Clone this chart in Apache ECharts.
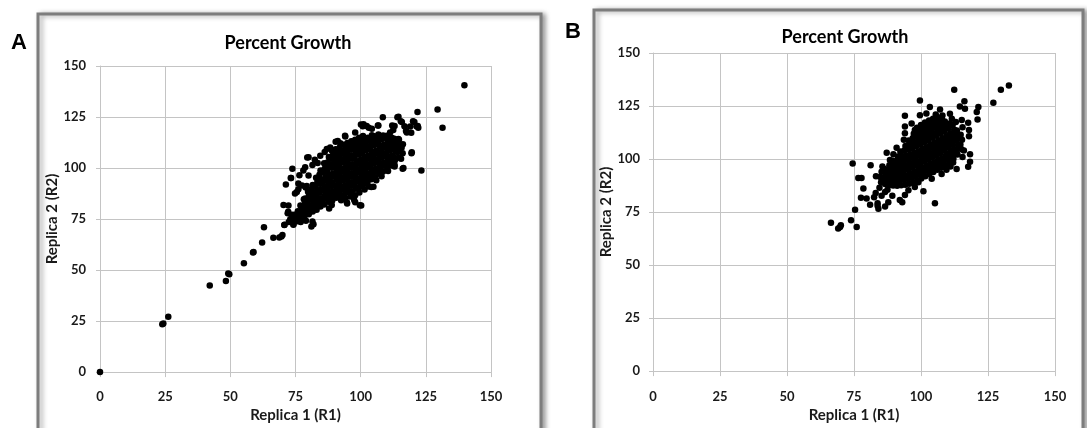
<!DOCTYPE html>
<html>
<head>
<meta charset="utf-8">
<script src="https://cdn.jsdelivr.net/npm/echarts@6/dist/echarts.min.js"></script>
<style>
  html, body { margin: 0; padding: 0; background: #fff; }
  #chart { width: 1087px; height: 428px; }
</style>
</head>
<body>
<div id="chart"></div>
<script>
// axis range shared by both panels
const axisMin = 0;
const axisMax = 150;
const axisStep = 25;

const panelTitle = "Percent Growth";
const xName = "Replica 1 (R1)";
const yName = "Replica 2 (R2)";
const panelLetters = ["A", "B"];

// panel A - isolated points
const sparseA = [
  [0,0],[23.9,23.4],[24.3,23.8],[26.2,27.1],[42.1,42.4],[48.3,44.7],[49.2,48.3],[49.6,48.0],[55.2,53.3],[58.7,58.6],[58.9,58.9],
  [62.2,63.5],[62.9,71.0],[66.5,65.8],[68.8,65.9],[69.6,66.4],[70.0,67.2],[70.7,72.1],[71.3,91.9],[73.3,95.1],[73.8,99.6],
  [70.4,81.9],[72.3,81.6],[72.0,77.9],[73.6,77.1],[72.4,73.6],[70.8,72.2],[74.2,72.5],[73.1,75.0],
  [81.1,71.4],[81.5,73.8],[81.9,72.5],[79.5,105.2],[82.4,104.1],[80.0,105.3],[87.0,109.3],[88.3,110.1],[90.4,112.9],[91.2,113.3],
  [94.1,115.4],[94.0,115.8],[97.9,117.4],[100.1,121.3],[100.8,120.5],[101.1,121.4],[102.3,120.6],[103.1,119.7],[104.3,119.3],
  [106.6,120.9],[106.8,120.8],[108.5,124.9],[112.1,120.8],[112.5,118.6],[113.0,120.6],[114.1,124.9],[114.5,125.1],[115.4,122.9],
  [115.8,122.5],[116.8,120.5],[117.4,118.1],[119.0,120.3],[119.4,117.3],[120.1,122.9],[120.6,122.5],[121.4,120.5],[121.9,120.6],
  [122.1,119.7],[121.8,127.4],[129.5,128.7],[131.4,119.7],[139.8,140.6],
  [123.3,98.8],[119.6,107.7],[119.5,107.3],[116.4,100.0],[116.1,99.6],[111.9,101.2],[110.8,101.2],[113.0,100.7],[110.0,115.8],
  [111.3,117.4],[114.5,114.2],[113.2,111.0],[117.7,117.4],[110.6,109.3],[111.3,112.5],
  [73.2,95.1],[76.1,89.6],[79.3,91.2],[74.8,87.5],[78.7,100.4],[80.0,96.4],[76.1,92.4],[78.7,85.1],[77.5,91.5],[78.9,90.4],
  [80.2,86.7],[75.5,88.3],[87.0,86.7],[88.9,81.9],[87.9,80.2],[94.0,85.1],[97.9,86.7],[94.7,83.2],[97.9,83.2],[94.8,82.6],
  [97.5,84.3],[99.7,81.8],[100.2,81.6],[104.1,90.7],[104.9,90.8],[103.6,94.8],[72.2,78.6],[73.0,74.6],[74.2,72.2],[77.0,73.5],[79.0,74.2],
  [76.5,96.5],[78.0,98.8],[81.5,101.5],[83.5,102.5],[84.5,106.0],[86.2,107.8],
  [92.5,84.2],[96.0,86.0],[99.5,88.0],[101.5,89.5],[103.0,91.0],[106.0,94.0],[108.0,96.0],[110.5,98.5],[113.0,101.5],[115.5,104.5]
];

// panel A - dense core, estimated
const denseA = [
  [74.2,74.8],[74.6,77.1],[75.8,73.9],[75.3,76.4],[75.9,78.8],[77.2,75.3],[76.8,77.5],[77.4,79.9],[76.9,81.6],
  [78.4,76.1],[78.8,78.4],[78.3,80.6],[78.7,82.9],[78.2,84.7],
  [80.1,77.4],[79.7,79.8],[80.3,81.5],[79.9,84.1],[80.2,86.2],[79.8,88.4],
  [81.6,78.7],[81.3,80.9],[81.8,82.6],[81.4,85.2],[81.7,87.5],[81.2,89.6],[81.6,91.7],
  [83.1,79.6],[82.8,82.2],[83.3,84.3],[82.9,86.7],[83.2,88.4],[82.7,90.9],[83.4,93.1],[82.9,95.2],
  [84.6,81.2],[84.2,83.4],[84.8,85.2],[84.3,87.9],[84.7,89.6],[84.4,92.3],[84.9,94.1],[84.2,96.7],[84.6,98.8],
  [86.1,82.1],[85.7,84.8],[86.3,86.4],[85.8,89.1],[86.2,90.9],[85.9,93.6],[86.4,95.3],[85.8,97.9],[86.2,99.6],[86.0,102.3],
  [87.6,83.5],[87.2,85.2],[87.8,87.9],[87.3,89.6],[87.7,92.3],[87.4,94.0],[87.9,96.7],[87.2,98.4],[87.6,101.1],[87.4,102.8],[87.8,105.4],
  [89.1,84.1],[88.8,86.8],[89.3,88.5],[88.9,91.2],[89.2,92.9],[88.7,95.6],[89.4,97.3],[88.9,100.1],[89.2,101.8],[88.8,104.5],[89.3,106.2],[89.0,108.5],
  [90.6,85.4],[90.2,87.1],[90.8,89.8],[90.3,91.5],[90.7,94.2],[90.4,95.9],[90.9,98.6],[90.2,100.3],[90.6,103.0],[90.3,104.7],[90.8,107.4],[90.4,109.2],
  [92.1,86.3],[91.7,88.0],[92.3,90.7],[91.8,92.4],[92.2,95.1],[91.9,96.8],[92.4,99.5],[91.7,101.2],[92.1,103.9],[91.8,105.6],[92.3,108.3],[91.9,110.0],[92.2,112.2],
  [93.6,86.8],[93.2,89.5],[93.8,91.2],[93.3,93.9],[93.7,95.6],[93.4,98.3],[93.9,100.0],[93.2,102.7],[93.6,104.4],[93.3,107.1],[93.8,108.8],[93.4,111.4],
  [95.1,88.1],[94.7,89.8],[95.3,92.5],[94.8,94.2],[95.2,96.9],[94.9,98.6],[95.4,101.3],[94.7,103.0],[95.1,105.7],[94.8,107.4],[95.3,110.1],[94.9,112.3],
  [96.6,88.6],[96.2,91.3],[96.8,93.0],[96.3,95.7],[96.7,97.4],[96.4,100.1],[96.9,101.8],[96.2,104.5],[96.6,106.2],[96.3,108.9],[96.8,110.6],[96.4,113.1],
  [98.1,89.9],[97.7,91.6],[98.3,94.3],[97.8,96.0],[98.2,98.7],[97.9,100.4],[98.4,103.1],[97.7,104.8],[98.1,107.5],[97.8,109.2],[98.3,111.9],[97.9,113.8],
  [99.6,90.7],[99.2,93.4],[99.8,95.1],[99.3,97.8],[99.7,99.5],[99.4,102.2],[99.9,103.9],[99.2,106.6],[99.6,108.3],[99.3,111.0],[99.8,112.7],[99.4,114.9],
  [101.1,92.2],[100.7,93.9],[101.3,96.6],[100.8,98.3],[101.2,101.0],[100.9,102.7],[101.4,105.4],[100.7,107.1],[101.1,109.8],[100.8,111.5],[101.3,114.2],[100.9,115.7],
  [102.6,92.9],[102.2,95.6],[102.8,97.3],[102.3,100.0],[102.7,101.7],[102.4,104.4],[102.9,106.1],[102.2,108.8],[102.6,110.5],[102.3,113.2],[102.8,114.9],
  [104.1,94.5],[103.7,96.2],[104.3,98.9],[103.8,100.6],[104.2,103.3],[103.9,105.0],[104.4,107.7],[103.7,109.4],[104.1,112.1],[103.8,113.8],[104.3,116.1],
  [105.6,95.4],[105.2,98.1],[105.8,99.8],[105.3,102.5],[105.7,104.2],[105.4,106.9],[105.9,108.6],[105.2,111.3],[105.6,113.0],[105.3,115.6],
  [107.1,97.2],[106.7,98.9],[107.3,101.6],[106.8,103.3],[107.2,106.0],[106.9,107.7],[107.4,110.4],[106.7,112.1],[107.1,114.8],[106.8,116.4],
  [108.6,98.3],[108.2,101.0],[108.8,102.7],[108.3,105.4],[108.7,107.1],[108.4,109.8],[108.9,111.5],[108.2,114.2],[108.6,115.9],
  [110.1,100.4],[109.7,102.1],[110.3,104.8],[109.8,106.5],[110.2,109.2],[109.9,110.9],[110.4,113.6],[109.7,115.4],
  [111.6,101.6],[111.2,104.3],[111.8,106.0],[111.3,108.7],[111.7,110.4],[111.4,113.1],[111.9,114.8],
  [113.1,103.7],[112.7,105.4],[113.3,108.1],[112.8,109.8],[113.2,112.5],[112.9,114.3],
  [114.6,105.2],[114.2,107.9],[114.8,109.6],[114.3,112.3],[114.7,113.9],
  [116.1,107.3],[115.7,109.9],[116.2,111.7]
];

// panel B - isolated points
const sparseB = [
  [66.4,69.9],[69.1,67.3],[70.1,68.8],[69.8,67.9],[76.0,67.9],[73.9,71.1],[75.4,76.1],[74.5,97.9],[81.2,97.1],[76.6,91.0],
  [77.8,91.0],[78.5,86.1],[77.6,81.7],[79.7,81.4],[81.0,78.4],[83.1,84.0],[83.2,91.9],[84.1,76.5],[83.8,78.0],[86.6,77.6],
  [89.3,82.7],[92.1,80.7],[93.0,79.6],[100.9,84.8],[105.2,79.1],[83.8,79.1],[85.3,82.7],[86.6,84.5],[82.5,82.0],[84.5,86.5],[87.5,85.5],
  [93.6,109.1],[94.0,115.3],[94.0,120.4],[99.6,127.6],[99.6,120.7],[103.3,124.5],[107.1,123.3],[110.8,121.4],[112.4,132.7],
  [114.5,124.8],[116.2,127.3],[116.4,123.7],[121.4,124.5],[120.8,122.2],[121.1,118.7],[117.6,117.1],[117.9,113.7],[117.9,110.7],
  [118.3,102.2],[118.3,98.7],[117.6,96.4],[114.5,110.7],[115.2,118.4],[127.0,126.5],[129.8,132.7],[132.8,134.7],
  [87.2,103.0],[89.7,102.2],[85.6,96.5],[88.4,99.6],[90.9,105.3],[96.5,116.8],[97.7,113.7],[94.0,112.2],[100.2,109.1],
  [112.0,98.4],[113.3,95.3],[107.7,93.0],[104.0,90.7],[99.0,89.1],[97.7,86.8],[95.3,85.3],[90.3,89.1],[88.4,91.4],[94.0,83.0],
  [87.8,79.6],[102.0,121.5],[105.5,121.0],[108.0,120.5],[111.5,119.0],[113.0,117.5],[115.5,115.0],[116.0,104.0],[115.5,101.0],
  [111.0,96.5],[109.5,95.0]
];

// panel B - dense core, estimated
const denseB = [
  [85.1,89.0],[84.8,91.5],[85.3,94.0],[86.6,88.2],[86.3,90.6],[86.8,92.8],[86.4,95.3],
  [88.1,87.7],[87.7,90.2],[88.3,92.4],[87.8,94.8],[88.2,97.1],
  [89.6,87.5],[89.2,89.9],[89.8,92.3],[89.3,94.5],[89.7,96.9],[89.4,99.2],
  [91.1,87.4],[90.7,89.9],[91.3,92.1],[90.8,94.5],[91.2,96.7],[90.9,99.1],[91.4,101.2],
  [92.6,87.6],[92.2,90.0],[92.8,92.2],[92.3,94.6],[92.7,96.8],[92.4,99.2],[92.9,101.4],[92.3,103.6],
  [94.1,87.9],[93.7,90.2],[94.3,92.4],[93.8,94.8],[94.2,97.0],[93.9,99.4],[94.4,101.6],[93.8,104.0],[94.2,106.1],
  [95.6,88.4],[95.2,90.7],[95.8,92.9],[95.3,95.3],[95.7,97.5],[95.4,99.9],[95.9,102.1],[95.3,104.5],[95.7,106.7],[95.4,108.7],
  [97.1,89.1],[96.7,91.4],[97.3,93.6],[96.8,96.0],[97.2,98.2],[96.9,100.6],[97.4,102.8],[96.8,105.2],[97.2,107.4],[96.9,109.8],[97.3,111.9],
  [98.6,89.9],[98.2,92.2],[98.8,94.4],[98.3,96.8],[98.7,99.0],[98.4,101.4],[98.9,103.6],[98.3,106.0],[98.7,108.2],[98.4,110.6],[98.8,112.7],[98.5,114.7],
  [100.1,90.8],[99.7,93.1],[100.3,95.3],[99.8,97.7],[100.2,99.9],[99.9,102.3],[100.4,104.5],[99.8,106.9],[100.2,109.1],[99.9,111.5],[100.3,113.7],[100.0,116.1],
  [101.6,91.9],[101.2,94.2],[101.8,96.4],[101.3,98.8],[101.7,101.0],[101.4,103.4],[101.9,105.6],[101.3,108.0],[101.7,110.2],[101.4,112.6],[101.8,114.8],[101.5,117.2],
  [103.1,92.9],[102.7,95.2],[103.3,97.4],[102.8,99.8],[103.2,102.0],[102.9,104.4],[103.4,106.6],[102.8,109.0],[103.2,111.2],[102.9,113.6],[103.3,115.8],[103.0,118.2],
  [104.6,93.9],[104.2,96.2],[104.8,98.4],[104.3,100.8],[104.7,103.0],[104.4,105.4],[104.9,107.6],[104.3,110.0],[104.7,112.2],[104.4,114.6],[104.8,116.8],[104.5,119.0],
  [106.1,94.9],[105.7,97.2],[106.3,99.4],[105.8,101.8],[106.2,104.0],[105.9,106.4],[106.4,108.6],[105.8,111.0],[106.2,113.2],[105.9,115.6],[106.3,117.8],[106.0,119.8],
  [107.6,95.9],[107.2,98.2],[107.8,100.4],[107.3,102.8],[107.7,105.0],[107.4,107.4],[107.9,109.6],[107.3,112.0],[107.7,114.2],[107.4,116.6],[107.8,118.8],
  [109.1,97.1],[108.7,99.4],[109.3,101.6],[108.8,104.0],[109.2,106.2],[108.9,108.6],[109.4,110.8],[108.8,113.2],[109.2,115.4],[108.9,117.7],
  [110.6,98.5],[110.2,100.8],[110.8,103.0],[110.3,105.4],[110.7,107.6],[110.4,110.0],[110.9,112.2],[110.3,114.6],[110.7,116.8],
  [112.1,100.1],[111.7,102.4],[112.3,104.6],[111.8,107.0],[112.2,109.2],[111.9,111.6],[112.4,113.8],[111.8,116.1],
  [113.6,102.1],[113.2,104.4],[113.8,106.6],[113.3,109.0],[113.7,111.2],[113.4,113.5],
  [115.1,104.6],[114.7,106.9],[115.3,109.1],[114.8,111.4]
];

const gridColor = "#c4c4c4";
const textColor = "#1a1a1a";
const labelFont = "Lato";

function xAxisFor(i, labelMargin, nameGap) {
  return {
    type: "value", gridIndex: i, min: axisMin, max: axisMax, interval: axisStep,
    name: xName, nameLocation: "middle", nameGap: nameGap,
    nameTextStyle: { fontFamily: labelFont, fontWeight: "bold", fontSize: 15, color: textColor },
    axisLine: { show: true, lineStyle: { color: gridColor } },
    axisTick: { show: true, length: 5, lineStyle: { color: gridColor } },
    axisLabel: { margin: labelMargin, fontFamily: labelFont, fontWeight: "bold", fontSize: 13, color: textColor },
    splitLine: { show: true, lineStyle: { color: gridColor } }
  };
}

function yAxisFor(i, labelMargin, nameGap) {
  return {
    type: "value", gridIndex: i, min: axisMin, max: axisMax, interval: axisStep,
    name: yName, nameLocation: "middle", nameGap: nameGap,
    nameTextStyle: { fontFamily: labelFont, fontWeight: "bold", fontSize: 15, color: textColor },
    axisLine: { show: true, lineStyle: { color: gridColor } },
    axisTick: { show: true, length: 4, lineStyle: { color: gridColor } },
    axisLabel: { margin: labelMargin, fontFamily: labelFont, fontWeight: "bold", fontSize: 13, color: textColor },
    splitLine: { show: true, lineStyle: { color: gridColor } }
  };
}

function frame(x, y, w, h) {
  return {
    type: "rect", z: -10, silent: true,
    shape: { x: x, y: y, width: w, height: h },
    style: {
      fill: "#fff", stroke: "#7d7d7d", lineWidth: 3,
      shadowBlur: 5, shadowOffsetX: 3, shadowOffsetY: 1, shadowColor: "rgba(0,0,0,0.35)"
    }
  };
}

function label(text, x, y, font) {
  return {
    type: "text", x: x, y: y, z: 10, silent: true,
    style: { text: text, font: font, fill: "#000", align: "center", verticalAlign: "middle" }
  };
}

const dotStyle = { color: "#000", opacity: 1 };

const chart = echarts.init(document.getElementById("chart"));
chart.setOption({
  animation: false,
  backgroundColor: "#fff",
  graphic: [
    frame(38, 14, 503, 430),
    frame(594, 10, 489, 430),
    label(panelLetters[0], 19, 43, 'bold 22px "Liberation Sans"'),
    label(panelLetters[1], 573, 32, 'bold 22px "Liberation Sans"'),
    label(panelTitle, 288, 43, "bold 18px Lato"),
    label(panelTitle, 845, 37, "bold 18px Lato")
  ],
  grid: [
    { left: 100, top: 66, width: 391, height: 310 },
    { left: 653, top: 53, width: 402, height: 325 }
  ],
  xAxis: [xAxisFor(0, 18, 35), xAxisFor(1, 19, 32)],
  yAxis: [yAxisFor(0, 14, 36), yAxisFor(1, 13, 34)],
  series: [
    {
      type: "scatter", xAxisIndex: 0, yAxisIndex: 0, symbolSize: 6.5,
      itemStyle: dotStyle,
      data: sparseA.concat(denseA)
    },
    {
      type: "scatter", xAxisIndex: 1, yAxisIndex: 1, symbolSize: 6.5,
      itemStyle: dotStyle,
      data: sparseB.concat(denseB)
    }
  ]
});
</script>
</body>
</html>
